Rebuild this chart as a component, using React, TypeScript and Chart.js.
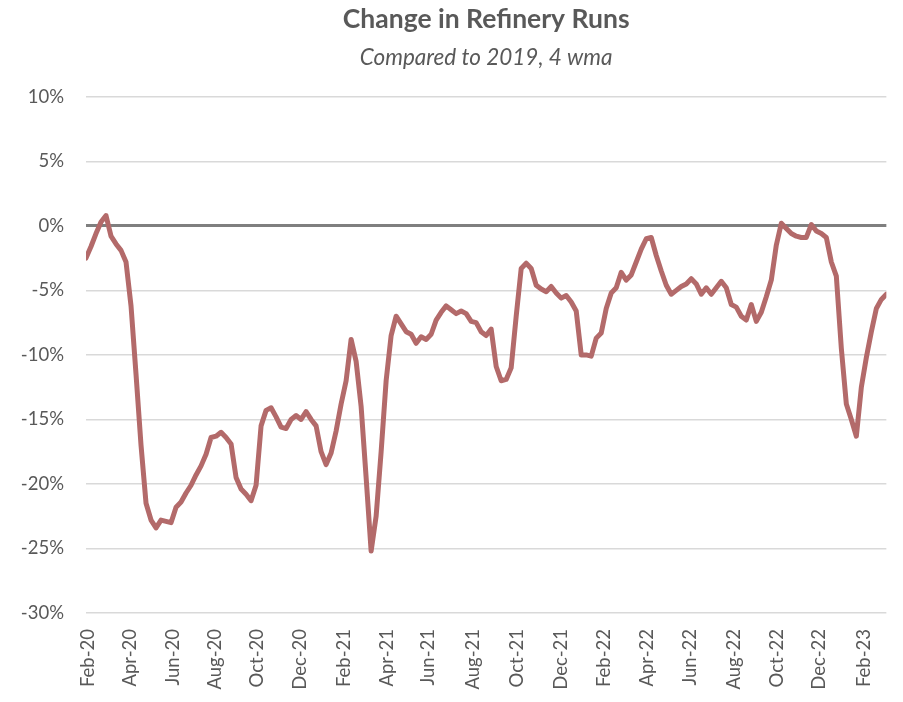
import React, { useEffect, useRef } from "react";
import { Chart, registerables } from "chart.js";

Chart.register(...registerables);

// Weekly change in refinery runs vs 2019 (4-week moving average), %, starting early Feb 2020
const runsChange: number[] = [
  -2.5, -1.6, -0.6, 0.3, 0.8, -0.8, -1.4, -1.9, -2.8, -6.2,
  -11.5, -17.0, -21.5, -22.8, -23.4, -22.8, -22.9, -23.0, -21.8, -21.4,
  -20.7, -20.1, -19.3, -18.6, -17.7, -16.4, -16.3, -16.0, -16.4, -16.9,
  -19.5, -20.4, -20.8, -21.3, -20.1, -15.5, -14.3, -14.1, -14.8, -15.6,
  -15.7, -15.0, -14.7, -15.0, -14.4, -15.0, -15.5, -17.5, -18.5, -17.6,
  -15.9, -13.8, -12.0, -8.8, -10.5, -14.0, -19.5, -25.2, -22.5, -17.5,
  -12.0, -8.5, -7.0, -7.6, -8.2, -8.4, -9.1, -8.6, -8.8, -8.4,
  -7.3, -6.7, -6.2, -6.5, -6.8, -6.6, -6.8, -7.4, -7.5, -8.2,
  -8.5, -8.0, -10.9, -12.0, -11.9, -11.0, -7.0, -3.3, -2.9, -3.3,
  -4.6, -4.9, -5.1, -4.7, -5.2, -5.6, -5.4, -5.9, -6.6, -10.0,
  -10.0, -10.1, -8.7, -8.3, -6.4, -5.2, -4.8, -3.6, -4.2, -3.8,
  -2.8, -1.8, -1.0, -0.9, -2.3, -3.5, -4.6, -5.3, -5.0, -4.7,
  -4.5, -4.1, -4.5, -5.3, -4.8, -5.3, -4.8, -4.3, -4.8, -6.1,
  -6.3, -7.0, -7.3, -6.1, -7.4, -6.7, -5.5, -4.2, -1.5, 0.2,
  -0.2, -0.6, -0.8, -0.9, -0.9, 0.1, -0.4, -0.6, -0.9, -2.8,
  -3.9, -9.5, -13.8, -15.0, -16.3, -12.5, -10.2, -8.2, -6.4, -5.7,
  -5.3,
];

// X-axis tick labels (every two months) and their week positions
const tickLabels: string[] = [
  "Feb-20", "Apr-20", "Jun-20", "Aug-20", "Oct-20", "Dec-20",
  "Feb-21", "Apr-21", "Jun-21", "Aug-21", "Oct-21", "Dec-21",
  "Feb-22", "Apr-22", "Jun-22", "Aug-22", "Oct-22", "Dec-22", "Feb-23",
];
const tickWeeks: number[] = [
  0.4, 8.8, 17.3, 25.7, 34.2, 42.7, 51.5, 60.1, 68.4, 77.3,
  86.2, 94.9, 103.6, 112.2, 120.8, 129.6, 138.1, 146.6, 155.6,
];

const yMin = -30;
const yMax = 10;
const yStep = 5;

const FONT = "Lato, 'Open Sans', sans-serif";

export default function App() {
  const canvasRef = useRef<HTMLCanvasElement | null>(null);

  useEffect(() => {
    document.body.style.margin = "0";
    const canvas = canvasRef.current;
    if (!canvas) return;
    const points = runsChange.map((v, i) => ({ x: i, y: v }));
    const chart = new Chart(canvas, {
      type: "line",
      data: {
        datasets: [
          {
            label: "Change in Refinery Runs",
            data: points,
            borderColor: "#b36a6a",
            borderWidth: 5,
            pointRadius: 0,
            tension: 0,
            fill: false,
            borderJoinStyle: "round",
            borderCapStyle: "round",
          },
        ],
      },
      options: {
        animation: false,
        responsive: false,
        maintainAspectRatio: false,
        layout: { padding: { left: 0, right: 13, top: 0, bottom: 0 } },
        plugins: {
          legend: { display: false },
          tooltip: { enabled: false },
          title: {
            display: true,
            text: "Change in Refinery Runs",
            fullSize: false,
            color: "#595959",
            font: { family: FONT, size: 26.5, weight: "bold" },
            padding: { top: 4, bottom: 8 },
          },
          subtitle: {
            display: true,
            text: "Compared to 2019, 4 wma",
            fullSize: false,
            color: "#595959",
            font: { family: FONT, size: 22.5, style: "italic" },
            padding: { top: 0, bottom: 26 },
          },
        },
        scales: {
          x: {
            type: "linear",
            min: 0,
            max: runsChange.length - 1,
            afterFit: (scale: any) => {
              scale.height = 89;
            },
            afterBuildTicks: (axis: any) => {
              axis.ticks = tickWeeks.map((w) => ({ value: w }));
            },
            ticks: {
              autoSkip: false,
              maxRotation: 90,
              minRotation: 90,
              padding: 16,
              color: "#595959",
              font: { family: FONT, size: 18.5 },
              callback: (_v: any, idx: number) => tickLabels[idx],
            },
            grid: { display: false, drawTicks: false },
            border: { display: false },
          },
          y: {
            min: yMin,
            max: yMax,
            afterFit: (scale: any) => {
              scale.width = 86;
            },
            ticks: {
              stepSize: yStep,
              padding: 22,
              color: "#595959",
              font: { family: FONT, size: 18.5 },
              callback: (v: any) => `${v}%`,
            },
            grid: {
              drawTicks: false,
              color: (ctx: any) => (ctx.tick && ctx.tick.value === 0 ? "#7f7f7f" : "#d9d9d9"),
              lineWidth: (ctx: any) => (ctx.tick && ctx.tick.value === 0 ? 3 : 1.5),
            },
            border: { display: false },
          },
        },
      },
    });
    return () => chart.destroy();
  }, []);

  return (
    <div style={{ width: 903, height: 702, background: "#ffffff" }}>
      <canvas ref={canvasRef} width={903} height={702} style={{ display: "block" }} />
    </div>
  );
}
